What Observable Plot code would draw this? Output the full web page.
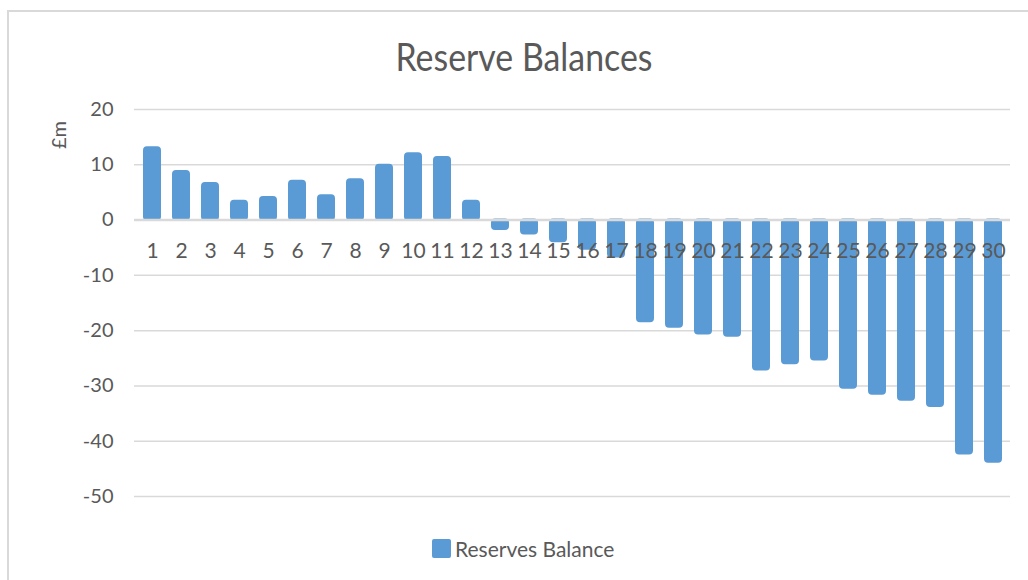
<!DOCTYPE html>
<html>
<head>
<meta charset="utf-8">
<script src="https://cdn.jsdelivr.net/npm/d3@7"></script>
<script src="https://cdn.jsdelivr.net/npm/@observablehq/plot@0.6"></script>
<style>
  html, body { margin: 0; padding: 0; background: #fff; }
  body { width: 1028px; height: 580px; overflow: hidden; position: relative; font-family: Lato, "Open Sans", sans-serif; color: #595959; }
  #frame { position: absolute; left: 7px; top: 10px; width: 1040px; height: 600px; border-left: 2px solid #D9D9D9; border-top: 2px solid #D9D9D9; box-sizing: border-box; }
  #title { position: absolute; top: 30px; left: 0; width: 1048px; text-align: center; pointer-events: none; }
  #title span { display: inline-block; font-size: 39px; font-weight: 400; line-height: 52px; white-space: nowrap; transform-origin: center; }
  #ylabel { position: absolute; left: 58px; top: 135px; transform: translate(-50%, -50%) rotate(-90deg); font-size: 20px; white-space: nowrap; }
  #chart { position: absolute; left: 0; top: 95px; }
  #legend { position: absolute; left: 432px; top: 536px; display: flex; align-items: center; height: 24px; }
  #legend .sw { width: 19px; height: 19px; background: #5B9BD5; border-radius: 2px; margin-right: 4px; }
  #legend .lt { font-size: 21px; white-space: nowrap; }
</style>
</head>
<body>
<div id="frame"></div>
<div id="title"><span>Reserve Balances</span></div>
<div id="chart"></div>
<div id="ylabel">£m</div>
<div id="legend"><div class="sw"></div><div class="lt">Reserves Balance</div></div>
<script>
const categories = ["1","2","3","4","5","6","7","8","9","10","11","12","13","14","15","16","17","18","19","20","21","22","23","24","25","26","27","28","29","30"];
const values = [13.1, 8.8, 6.6, 3.4, 4.1, 7.0, 4.4, 7.3, 9.9, 12.0, 11.3, 3.4, -1.7, -2.5, -3.9, -5.3, -6.7, -18.4, -19.4, -20.6, -21.0, -27.1, -26.0, -25.3, -30.4, -31.5, -32.6, -33.7, -42.3, -43.8];
const yTicks = [20, 10, 0, -10, -20, -30, -40, -50];
const seriesName = "Reserves Balance";

const data = categories.map((c, i) => ({period: c, value: values[i]}));

const chart = Plot.plot({
  width: 1028,
  height: 425,
  marginTop: 14,
  marginBottom: 24,
  marginLeft: 134,
  marginRight: 18,
  style: {fontFamily: "Lato, 'Open Sans', sans-serif", color: "#595959", background: "transparent"},
  x: {type: "band", domain: categories, paddingInner: 0.45, paddingOuter: 0.225, axis: null},
  y: {domain: [-50, 20], axis: null},
  marks: [
    Plot.gridY(yTicks.filter(d => d !== 0), {stroke: "#D9D9D9", strokeOpacity: 1, strokeWidth: 1.5}),
    Plot.axisY(yTicks, {tickSize: 0, tickPadding: 21, fontSize: 20, fill: "#595959", tickFormat: d => String(d), label: null}),
    Plot.barY(data, {x: "period", y1: 0, y2: "value", fill: "#5B9BD5", stroke: "#5B9BD5", strokeWidth: 2, rx: 3}),
    Plot.ruleY([0], {stroke: "#D9D9D9", strokeWidth: 2.5}),
    Plot.text(data, {x: "period", y: () => 0, text: "period", dy: 31, fontSize: 21, fill: "#595959", textAnchor: "middle", lineAnchor: "middle"})
  ]
});
document.getElementById("chart").appendChild(chart);

function fitTitle() {
  const s = document.querySelector("#title span");
  s.style.transform = "none";
  const w = s.getBoundingClientRect().width;
  if (w > 0) s.style.transform = `scaleX(${257 / w})`;
}
fitTitle();
if (document.fonts && document.fonts.ready) document.fonts.ready.then(fitTitle);
</script>
</body>
</html>
